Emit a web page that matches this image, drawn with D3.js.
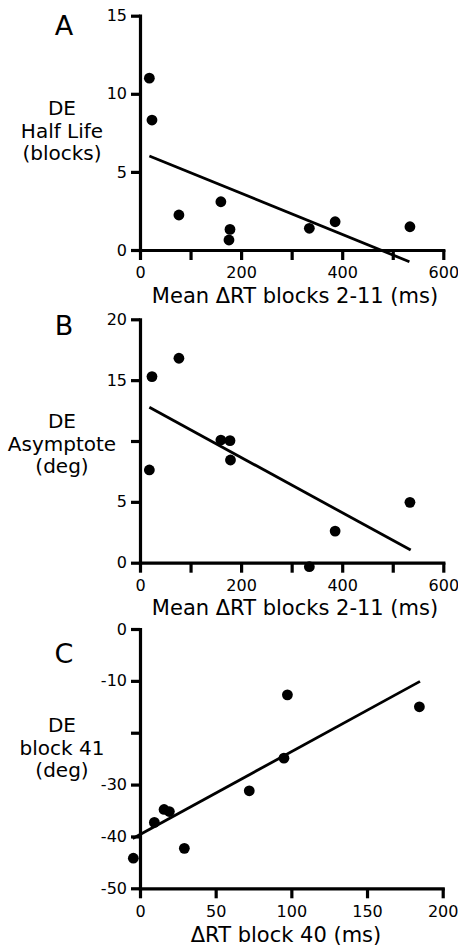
<!DOCTYPE html>
<html>
  <head>
    <meta charset="utf-8">
    <title>DE vs RT</title>
    <style>
      body { margin: 0; background: #fff; }
      svg text { font-family: "DejaVu Sans", "Liberation Sans", sans-serif; fill: #000; }
    </style>
  </head>
  <body>
    <svg id="chart" width="458" height="947"></svg>
    <script src="https://d3js.org/d3.v7.min.js"></script>
    <script>
      // panel A: half life vs mean dRT blocks 2-11
      const xA = [18.5, 23.7, 77, 160, 178, 176, 335, 386, 534]
      const yA = [11.0, 8.32, 2.24, 3.09, 1.32, 0.64, 1.39, 1.81, 1.49]
      const fitA = { x: [18.5, 533], y: [6.02, -0.75] }

      // panel B: asymptote vs mean dRT blocks 2-11
      const xB = [18.5, 23.7, 77, 160, 178, 179, 335, 386, 534]
      const yB = [7.62, 15.29, 16.8, 10.08, 10.03, 8.44, -0.33, 2.6, 4.96]
      const fitB = { x: [18.5, 535.5], y: [12.77, 1.04] }

      // panel C: block 41 vs dRT block 40
      const xC = [-4.4, 9.5, 15.9, 19.4, 29.3, 72.2, 95.1, 97.4, 184.6]
      const yC = [-44.2, -37.3, -34.8, -35.2, -42.3, -31.2, -24.9, -12.7, -15.0]
      const fitC = { x: [-4.8, 185], y: [-40.4, -10.1] }

      const xTicksAB = [0, 100, 200, 300, 400, 500, 600]
      const xLabelsAB = [0, 200, 400, 600]
      const yTicksA = [0, 5, 10, 15]
      const yTicksB = [0, 5, 10, 15, 20]
      const yLabelsB = [0, 5, 15, 20]
      const xTicksC = [0, 50, 100, 150, 200]
      const yTicksC = [0, -10, -20, -30, -40, -50]
      const yLabelsC = [0, -10, -30, -40, -50]

      const svg = d3.select('#chart')

      const panels = [
        {
          letter: 'A', letterY: 35,
          xs: xA, ys: yA, fit: fitA,
          xDomain: [0, 600], xRange: [140, 443.3],
          yDomain: [0, 15], yRange: [250, 15.7],
          xTicks: xTicksAB, xLabels: xLabelsAB,
          yTicks: yTicksA, yLabels: yTicksA,
          yTitle: ['DE', 'Half Life', '(blocks)'], yTitleY: 115,
          xTitle: 'Mean \u0394RT blocks 2-11 (ms)', xTitleX: 295, xTitleY: 303
        },
        {
          letter: 'B', letterY: 335,
          xs: xB, ys: yB, fit: fitB,
          xDomain: [0, 600], xRange: [140, 443.3],
          yDomain: [0, 20], yRange: [562.7, 319.3],
          xTicks: xTicksAB, xLabels: xLabelsAB,
          yTicks: yTicksB, yLabels: yLabelsB,
          yTitle: ['DE', 'Asymptote', '(deg)'], yTitleY: 428,
          xTitle: 'Mean \u0394RT blocks 2-11 (ms)', xTitleX: 295, xTitleY: 615
        },
        {
          letter: 'C', letterY: 663,
          xs: xC, ys: yC, fit: fitC,
          xDomain: [0, 200], xRange: [140, 442.7],
          yDomain: [-50, 0], yRange: [888.3, 629],
          xTicks: xTicksC, xLabels: xTicksC,
          yTicks: yTicksC, yLabels: yLabelsC,
          yTitle: ['DE', 'block 41', '(deg)'], yTitleY: 732,
          xTitle: '\u0394RT block 40 (ms)', xTitleX: 286, xTitleY: 942
        }
      ]

      panels.forEach(p => {
        const x = d3.scaleLinear().domain(p.xDomain).range(p.xRange)
        const y = d3.scaleLinear().domain(p.yDomain).range(p.yRange)
        const g = svg.append('g')

        const xAxis = d3.axisBottom(x)
          .tickValues(p.xTicks)
          .tickFormat(d => p.xLabels.includes(d) ? d : '')
          .tickSize(10).tickPadding(7).tickSizeOuter(0)
        const yAxis = d3.axisLeft(y)
          .tickValues(p.yTicks)
          .tickFormat(d => p.yLabels.includes(d) ? d : '')
          .tickSize(9).tickPadding(4).tickSizeOuter(0)

        const gx = g.append('g')
          .attr('stroke-width', 3.2)
          .attr('transform', `translate(0,${ y(p.yDomain[0]) })`)
          .call(xAxis)
        const gy = g.append('g')
          .attr('stroke-width', 3.2)
          .attr('transform', `translate(${ x(p.xDomain[0]) },0)`)
          .call(yAxis)

        ;[gx, gy].forEach(a => {
          a.selectAll('path, line')
            .attr('stroke', '#000').attr('stroke-width', 3.2)
            .style('stroke-width', '3.2px')
          a.selectAll('text').style('font-size', '16px').style('fill', '#000').attr('stroke', 'none')
          a.select('.domain').style('stroke-linecap', 'square')
        })

        // regression line
        g.append('line')
          .attr('x1', x(p.fit.x[0])).attr('y1', y(p.fit.y[0]))
          .attr('x2', x(p.fit.x[1])).attr('y2', y(p.fit.y[1]))
          .style('stroke', '#000').style('stroke-width', '2.8px')

        // points
        g.append('g').selectAll('circle')
          .data(p.xs.map((v, i) => [v, p.ys[i]]))
          .join('circle')
            .attr('cx', d => x(d[0]))
            .attr('cy', d => y(d[1]))
            .attr('r', 5.4)
            .attr('fill', '#000')

        // panel letter
        g.append('text')
          .attr('x', 64).attr('y', p.letterY)
          .attr('text-anchor', 'middle')
          .style('font-size', '27px')
          .text(p.letter)

        // y title, three lines
        g.append('text')
          .attr('text-anchor', 'middle')
          .style('font-size', '20px')
          .selectAll('tspan')
          .data(p.yTitle)
          .join('tspan')
            .attr('x', 62)
            .attr('y', (d, i) => p.yTitleY + i * 22.5)
            .text(d => d)

        // x title
        g.append('text')
          .attr('x', p.xTitleX).attr('y', p.xTitleY)
          .attr('text-anchor', 'middle')
          .style('font-size', '21px')
          .text(p.xTitle)
      })
    </script>
  </body>
</html>
